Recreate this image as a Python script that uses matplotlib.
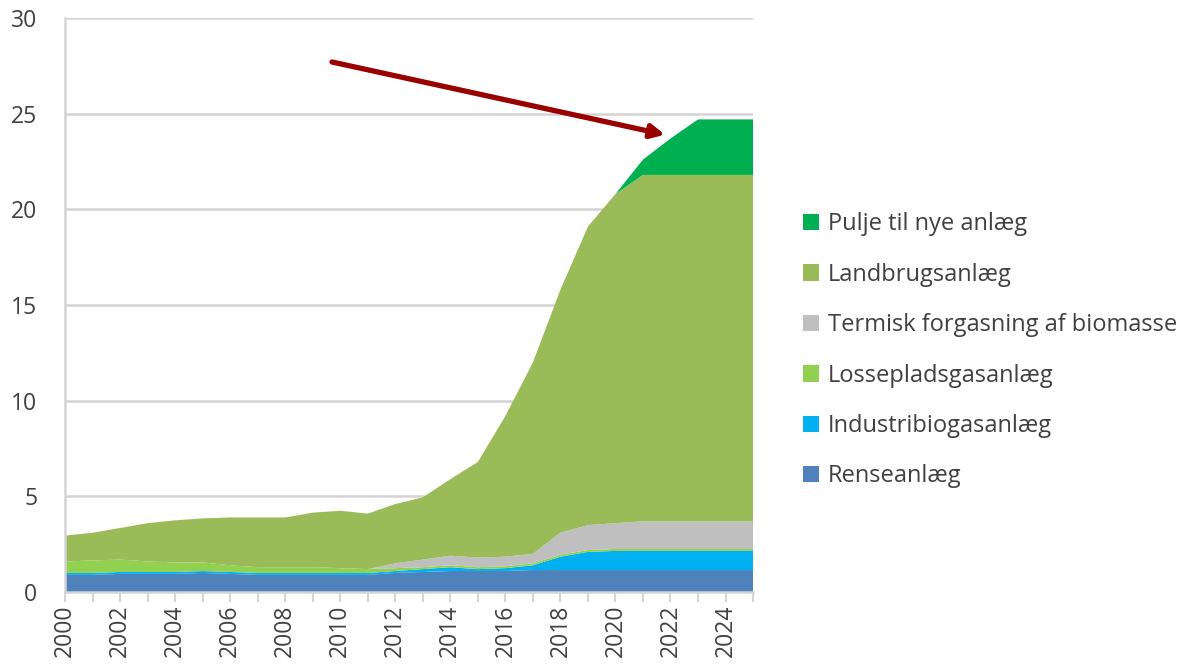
#!/usr/bin/env python3

import numpy as np
from matplotlib import pyplot as plt
from matplotlib.ticker import MultipleLocator

years = list(range(2000, 2026))

rense = [0.9, 0.9, 0.95, 0.95, 0.95, 1.0, 0.95, 0.9, 0.9, 0.9, 0.9, 0.9, 1.0,
         1.05, 1.1, 1.1, 1.1, 1.15, 1.15, 1.15, 1.15, 1.15, 1.15, 1.15, 1.15, 1.15]
industri = [0.1, 0.1, 0.1, 0.1, 0.1, 0.1, 0.1, 0.1, 0.1, 0.1, 0.1, 0.1, 0.1,
            0.15, 0.2, 0.1, 0.15, 0.25, 0.7, 0.95, 1.0, 1.0, 1.0, 1.0, 1.0, 1.0]
losse = [0.6, 0.65, 0.65, 0.55, 0.5, 0.45, 0.35, 0.3, 0.3, 0.3, 0.25, 0.2, 0.15,
         0.1, 0.1, 0.1, 0.1, 0.1, 0.1, 0.1, 0.1, 0.1, 0.1, 0.1, 0.1, 0.1]
termisk = [0, 0, 0, 0, 0, 0, 0, 0, 0, 0, 0, 0, 0.25,
           0.4, 0.5, 0.5, 0.5, 0.5, 1.15, 1.3, 1.35, 1.45, 1.45, 1.45, 1.45, 1.45]
landbrug = [1.35, 1.45, 1.65, 2.0, 2.2, 2.3, 2.5, 2.6, 2.6, 2.85, 3.0, 2.9, 3.1,
            3.25, 4.0, 5.0, 7.35, 10.0, 12.7, 15.6, 17.2, 18.1, 18.1, 18.1, 18.1, 18.1]
pulje = [0, 0, 0, 0, 0, 0, 0, 0, 0, 0, 0, 0, 0,
         0, 0, 0, 0, 0, 0, 0, 0, 0.8, 1.9, 2.9, 2.9, 2.9]

labels = ['Renseanlæg', 'Industribiogasanlæg', 'Lossepladsgasanlæg',
          'Termisk forgasning af biomasse', 'Landbrugsanlæg', 'Pulje til nye anlæg']
colors = ['#4f81bd', '#00b0f0', '#92d050', '#bfbfbf', '#9bbb59', '#00b050']

plt.rcParams['font.family'] = ['Open Sans', 'DejaVu Sans']
TXT = '#404040'
GRID = '#d4d4d4'

fig = plt.figure(figsize=(11.84, 6.66), dpi=100)
ax = fig.add_axes([0.055, 0.111, 0.581, 0.862])

ax.stackplot(years, rense, industri, losse, termisk, landbrug, pulje,
             colors=colors, labels=labels, lw=0, zorder=2)

ax.set_xlim(2000, 2025)
ax.set_ylim(0, 30)
ax.yaxis.set_major_locator(MultipleLocator(5))
ax.xaxis.set_major_locator(MultipleLocator(2))
ax.xaxis.set_minor_locator(MultipleLocator(1))
ax.grid(axis='y', color=GRID, lw=1.8, zorder=0)
ax.set_axisbelow(True)

for s in ['top', 'right']:
    ax.spines[s].set_visible(False)
for s in ['left', 'bottom']:
    ax.spines[s].set_color(GRID)
    ax.spines[s].set_linewidth(1.8)

ax.tick_params(axis='y', length=0, pad=20, labelsize=16.5, labelcolor=TXT)
ax.tick_params(axis='x', which='both', direction='out', length=7, width=1.5,
               color=GRID, pad=2, labelsize=16.5, labelcolor=TXT, labelrotation=90)

ax.annotate('', xy=(2021.8, 23.9), xytext=(2009.7, 27.7),
            arrowprops=dict(arrowstyle='-|>,head_length=0.8,head_width=0.4',
                            color='#990000', lw=3.8, shrinkA=0, shrinkB=0),
            annotation_clip=False)

h, l = ax.get_legend_handles_labels()
fig.legend(h[::-1], l[::-1], loc='upper left', bbox_to_anchor=(0.668, 0.699),
           frameon=False, fontsize=17, labelcolor=TXT,
           handlelength=0.7, handleheight=0.7, handletextpad=0.35,
           labelspacing=1.12, borderpad=0)

plt.savefig('out.png')
